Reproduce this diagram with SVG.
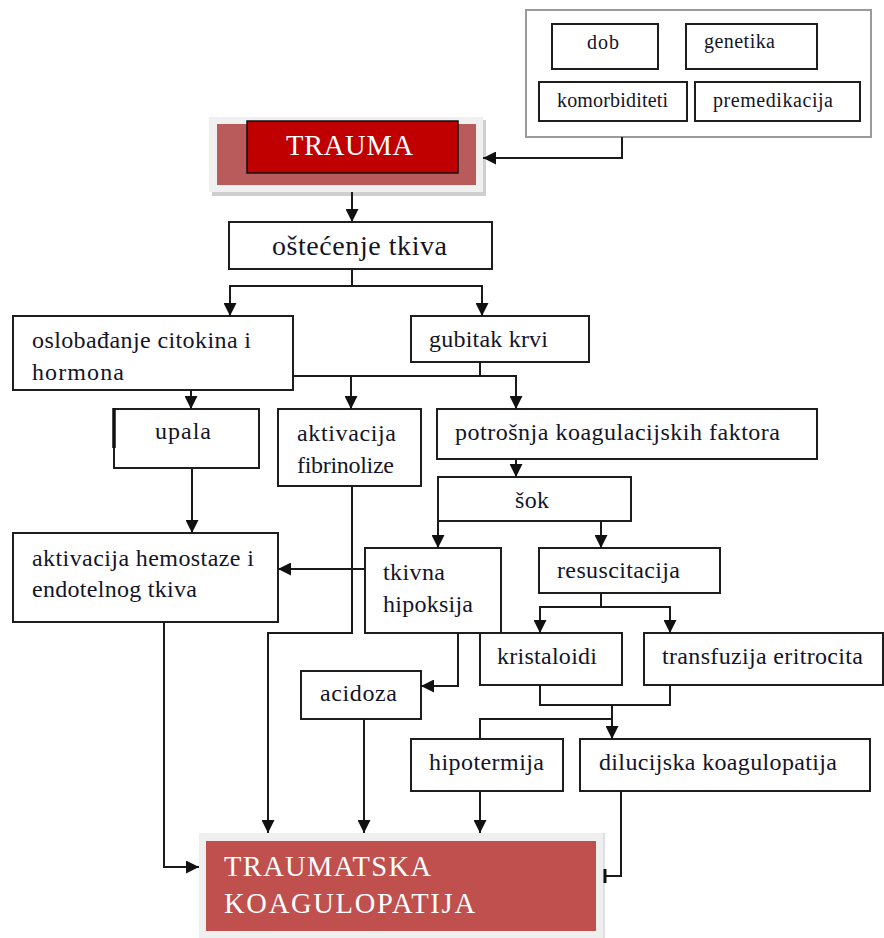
<svg xmlns="http://www.w3.org/2000/svg" width="884" height="938" viewBox="0 0 884 938">
<style>
.box{fill:#fff;stroke:#1e1e1e;stroke-width:2}
.t{font-family:"Liberation Serif","Times New Roman",serif;font-size:24px;fill:#141428}
.s{font-family:"Liberation Serif","Times New Roman",serif;font-size:20px;fill:#141428}
.w{font-family:"Liberation Serif","Times New Roman",serif;font-size:28.5px;fill:#fff}
.c{fill:none;stroke:#1a1a1a;stroke-width:2}
.a{marker-end:url(#arr)}
</style>
<defs>
<marker id="arr" viewBox="0 0 12 12" refX="12" refY="6" markerWidth="13" markerHeight="13" markerUnits="userSpaceOnUse" orient="auto">
<path d="M0,0 L12,6 L0,12 z" fill="#111"/>
</marker>
</defs>
<rect width="884" height="938" fill="#fff"/>

<g id="faktori">
<rect x="526" y="10" width="345" height="127" fill="#fff" stroke="#9a9a9a" stroke-width="2"/>
<rect class="box" x="552" y="24" width="106" height="45"/>
<text class="s" x="587" y="49" textLength="32" lengthAdjust="spacing">dob</text>
<rect class="box" x="686" y="24" width="131" height="45"/>
<text class="s" x="704" y="48" textLength="71" lengthAdjust="spacing">genetika</text>
<rect class="box" x="539" y="82" width="148" height="39"/>
<text class="s" x="557" y="107" textLength="111" lengthAdjust="spacing">komorbiditeti</text>
<rect class="box" x="695" y="82" width="165" height="39"/>
<text class="s" x="713" y="107" textLength="120" lengthAdjust="spacing">premedikacija</text>
</g>

<g id="trauma">
<rect x="212" y="120" width="274" height="76" fill="#cfcfcf"/>
<rect x="209" y="117" width="274" height="75" fill="#f0f0f0"/>
<rect x="217" y="124" width="259" height="61" fill="#B95B5B"/>
<rect x="247" y="121" width="211" height="52" fill="#C00000" stroke="#111" stroke-width="1.5"/>
<text class="w" x="286" y="155" textLength="127" lengthAdjust="spacing">TRAUMA</text>
</g>

<g id="ostecenje">
<rect class="box" x="229" y="222" width="263" height="47"/>
<text class="t" x="272" y="255" style="font-size:28px" textLength="175" lengthAdjust="spacing">oštećenje tkiva</text>
</g>

<g id="oslobadjanje">
<rect class="box" x="13" y="316" width="280" height="74"/>
<text class="t" x="32" y="348" textLength="219" lengthAdjust="spacing">oslobađanje citokina i</text>
<text class="t" x="32" y="380" textLength="92" lengthAdjust="spacing">hormona</text>
</g>

<g id="gubitak">
<rect class="box" x="411" y="316" width="178" height="46"/>
<text class="t" x="429" y="347" textLength="119" lengthAdjust="spacing">gubitak krvi</text>
</g>

<g id="upala">
<rect class="box" x="114" y="409" width="145" height="59"/>
<line x1="114" y1="408" x2="114" y2="448" stroke="#111" stroke-width="3.5"/>
<text class="t" x="155" y="439" textLength="56" lengthAdjust="spacing">upala</text>
</g>

<g id="fibrinoliza">
<rect class="box" x="278" y="409" width="143" height="77"/>
<text class="t" x="297" y="441" textLength="99" lengthAdjust="spacing">aktivacija</text>
<text class="t" x="297" y="473" textLength="97" lengthAdjust="spacing">fibrinolize</text>
</g>

<g id="potrosnja">
<rect class="box" x="437" y="409" width="380" height="50"/>
<text class="t" x="455" y="440" textLength="325" lengthAdjust="spacing">potrošnja koagulacijskih faktora</text>
</g>

<g id="sok">
<rect class="box" x="438" y="477" width="193" height="44"/>
<text class="t" x="515" y="508" textLength="34" lengthAdjust="spacing">šok</text>
</g>

<g id="hemostaza">
<rect class="box" x="13" y="533" width="265" height="89"/>
<text class="t" x="32" y="566" textLength="222" lengthAdjust="spacing">aktivacija hemostaze i</text>
<text class="t" x="32" y="597" textLength="165" lengthAdjust="spacing">endotelnog tkiva</text>
</g>

<g id="hipoksija">
<rect class="box" x="365" y="548" width="136" height="85"/>
<text class="t" x="383" y="580" textLength="62" lengthAdjust="spacing">tkivna</text>
<text class="t" x="383" y="612" textLength="90" lengthAdjust="spacing">hipoksija</text>
</g>

<g id="resuscitacija">
<rect class="box" x="539" y="548" width="181" height="45"/>
<text class="t" x="557" y="578" textLength="123" lengthAdjust="spacing">resuscitacija</text>
</g>

<g id="kristaloidi">
<rect class="box" x="480" y="633" width="142" height="52"/>
<text class="t" x="497" y="664" textLength="100" lengthAdjust="spacing">kristaloidi</text>
</g>

<g id="transfuzija">
<rect class="box" x="644" y="633" width="239" height="52"/>
<text class="t" x="662" y="664" textLength="201" lengthAdjust="spacing">transfuzija eritrocita</text>
</g>

<g id="acidoza">
<rect class="box" x="301" y="671" width="120" height="48"/>
<text class="t" x="320" y="701" textLength="77" lengthAdjust="spacing">acidoza</text>
</g>

<g id="hipotermija">
<rect class="box" x="411" y="739" width="152" height="52"/>
<text class="t" x="429" y="770" textLength="115" lengthAdjust="spacing">hipotermija</text>
</g>

<g id="dilucijska">
<rect class="box" x="580" y="739" width="290" height="52"/>
<text class="t" x="599" y="770" textLength="238" lengthAdjust="spacing">dilucijska koagulopatija</text>
</g>

<g id="koagulopatija">
<rect x="199" y="833" width="405" height="105" fill="#efefef"/>
<line x1="604" y1="833" x2="604" y2="938" stroke="#d8d8d8" stroke-width="1.5"/>
<rect x="206" y="841" width="390" height="90" fill="#C0504D"/>
<text class="w" x="224" y="876" textLength="207" lengthAdjust="spacing">TRAUMATSKA</text>
<text class="w" x="224" y="913" textLength="251" lengthAdjust="spacing">KOAGULOPATIJA</text>
</g>

<g id="connectors">
<path class="c a" d="M622,137 V158 H483"/>
<path class="c a" d="M352,192 V222"/>
<path class="c a" d="M352,269 V286 H230 V316"/>
<path class="c a" d="M352,286 H482 V316"/>
<path class="c a" d="M191,390 V409"/>
<path class="c a" d="M480,362 V376 H516 V409"/>
<path class="c" d="M293,376 H480"/>
<path class="c a" d="M351,376 V409"/>
<path class="c a" d="M516,459 V477"/>
<path class="c a" d="M438,521 V548"/>
<path class="c a" d="M601,521 V548"/>
<path class="c a" d="M192,468 V533"/>
<path class="c a" d="M365,569 H278"/>
<path class="c a" d="M601,593 V607 H540 V633"/>
<path class="c a" d="M601,607 H670 V633"/>
<path class="c a" d="M458,633 V686 H421"/>
<path class="c" d="M540,685 V705 H670 V685"/>
<path class="c a" d="M612,705 V739"/>
<path class="c" d="M612,719 H480 V739"/>
<path class="c a" d="M352,486 V633 H268 V833"/>
<path class="c a" d="M364,719 V833"/>
<path class="c a" d="M480,791 V833"/>
<path class="c a" d="M164,622 V867 H199"/>
<path class="c" d="M621,791 V876 H605"/>
<line x1="605" y1="869" x2="605" y2="883" stroke="#111" stroke-width="3"/>
</g>
</svg>
